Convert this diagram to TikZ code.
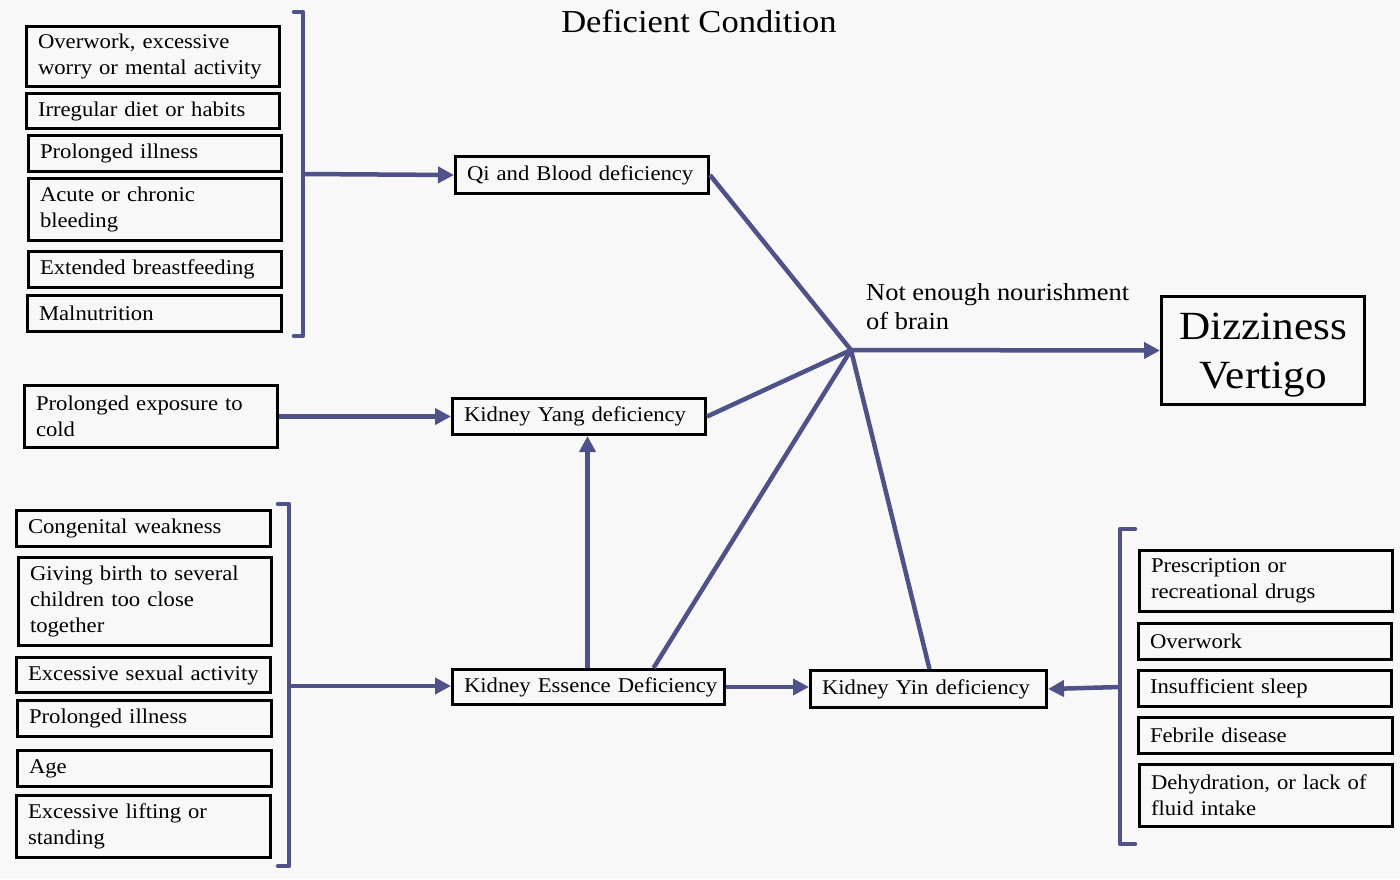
\documentclass[tikz,border=0pt]{standalone}
\usepackage{fontspec}
\setmainfont[FakeStretch=1.08]{Liberation Serif}
\usetikzlibrary{arrows.meta}
\definecolor{lc}{HTML}{4F5189}
\definecolor{bg}{HTML}{F8F8F8}
\tikzset{
  box/.style={draw=black, line width=3pt, rectangle, anchor=north west, inner xsep=10pt, inner ysep=0pt, align=left, font=\fontsize{21}{26}\selectfont},
  conn/.style={draw=lc, line width=4.5pt},
  arr/.style={conn, -{Triangle[length=16pt,width=16pt]}},
  brk/.style={draw=lc, line width=4.5pt, line join=round, line cap=round},
}
\newcommand{\bx}[6]{% name, x, y, w, h, text
  \node[box, minimum width=#4pt, minimum height=#5pt, text width=#4pt-20pt-3pt] (#1) at (#2,#3) {#6};}
\begin{document}
\begin{tikzpicture}[x=1pt,y=-1pt]
\fill[bg] (0,0) rectangle (1400,879);
\useasboundingbox (0,0) rectangle (1400,879);

\node[font=\fontsize{32}{36}\selectfont] (title) at (699,21) {Deficient Condition};

% top-left group
\bx{a1}{25}{25}{253}{60}{Overwork, excessive\\worry or mental activity}
\bx{a2}{25}{92}{253}{35}{Irregular diet or habits}
\bx{a3}{27}{134}{253}{36}{Prolonged illness}
\bx{a4}{27}{177}{253}{62}{Acute or chronic\\bleeding}
\bx{a5}{27}{250}{253}{36}{Extended breastfeeding}
\bx{a6}{26}{294}{254}{36}{Malnutrition}
\draw[brk] (294,12) -- (303,12) -- (303,336) -- (294,336);
\coordinate (bA) at (303,174);

% middle nodes
\bx{qi}{454}{155}{253}{37}{Qi and Blood deficiency}
\bx{yang}{451}{397}{253}{36}{Kidney Yang deficiency}
\bx{cold}{23}{384}{253}{62}{Prolonged exposure to\\cold}
\bx{ess}{451}{668}{272}{35}{\mbox{Kidney Essence Deficiency}}
\bx{yin}{809}{669}{236}{37}{Kidney Yin deficiency}
\node[draw=black, line width=3pt, anchor=north west, minimum width=203pt, minimum height=108pt, inner sep=0pt] (diz) at (1160,295) {};
\node[align=center, inner sep=0pt, font=\fontsize{40}{49}\selectfont] (diztext) at ([yshift=-5pt]diz.center) {Dizziness\\Vertigo};

\node[anchor=north west, align=left, inner sep=0pt, font=\fontsize{24.5}{29}\selectfont] (lbl) at (866,283) {Not enough nourishment\\of brain};

\coordinate (hub) at (851,350);

% bottom-left group
\bx{b1}{15}{509}{254}{36}{Congenital weakness}
\bx{b2}{17}{556}{253}{88}{Giving birth to several\\children too close\\together}
\bx{b3}{15}{656}{254}{35}{Excessive sexual activity}
\bx{b4}{16}{699}{254}{36}{Prolonged illness}
\bx{b5}{16}{749}{254}{36}{Age}
\bx{b6}{15}{794}{254}{62}{Excessive lifting or\\standing}
\draw[brk] (278,504) -- (289,504) -- (289,866) -- (278,866);
\coordinate (bB) at (289,686);

% right group
\bx{c1}{1138}{549}{253}{61}{Prescription or\\recreational drugs}
\bx{c2}{1137}{622}{253}{36}{Overwork}
\bx{c3}{1137}{669}{253}{36}{Insufficient sleep}
\bx{c4}{1137}{716}{254}{36}{Febrile disease}
\bx{c5}{1138}{763}{253}{62}{Dehydration, or lack of\\fluid intake}
\draw[brk] (1135,529) -- (1120,529) -- (1120,844) -- (1135,844);
\coordinate (bC) at (1120,687);

% connectors
\draw[arr] (bA) -- (qi.west);
\draw[arr] (cold.east) -- (yang.west);
\draw[arr] (bB) -- (bB -| ess.west);
\draw[arr] (bC) -- (yin.east);
\draw[conn] (qi.east) -- (hub);
\draw[conn] (yang.east) -- (hub);
\draw[conn] ([xshift=65pt]ess.north) -- (hub);
\draw[conn] ([xshift=1pt]yin.north) -- (hub);
\draw[arr] ([xshift=-1pt]ess.north) -- ([xshift=-1pt]ess.north |- yang.south);
\draw[arr] (ess.east) -- (ess.east -| yin.west);
\draw[arr] (hub) -- (diz.west);
\end{tikzpicture}
\end{document}
